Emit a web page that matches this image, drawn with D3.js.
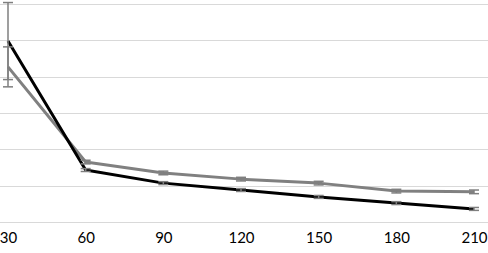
<!DOCTYPE html>
<html>
<head>
<meta charset="utf-8">
<script src="https://cdn.jsdelivr.net/npm/d3@7"></script>
<style>
  body { margin: 0; background: #fff; }
  svg { display: block; }
</style>
</head>
<body>
<div id="container"></div>
<script>
const categories = ["30", "60", "90", "120", "150", "180", "210"]
const blackValues = [49.8, 14.3, 10.7, 8.8, 6.9, 5.2, 3.6]
const blackErrors = [10.6, 0.4, 0.4, 0.4, 0.4, 0.4, 0.4]
const grayValues = [42.7, 16.5, 13.5, 11.8, 10.7, 8.5, 8.3]
const grayErrors = [5.5, 0.5, 0.5, 0.5, 0.5, 0.5, 0.5]
const yTicks = [0, 10, 20, 30, 40, 50, 60]

const width = 488
const height = 253

const svg = d3.select("#container")
    .append("svg")
    .attr("width", width)
    .attr("height", height)

const x = d3.scalePoint()
    .domain(categories)
    .range([8, 474])

const y = d3.scaleLinear()
    .domain([0, 60])
    .range([222, 4])

// gridlines
svg.append("g")
    .selectAll("line")
    .data(yTicks)
    .join("line")
    .attr("x1", 0)
    .attr("x2", width)
    .attr("y1", d => Math.round(y(d)) + 0.5)
    .attr("y2", d => Math.round(y(d)) + 0.5)
    .attr("stroke", "#d9d9d9")
    .attr("stroke-width", 1)

// x axis labels
const xAxis = d3.axisBottom(x).tickSize(0).tickPadding(0)
svg.append("g")
    .attr("transform", "translate(0,232)")
    .call(xAxis)
    .call(g => g.select(".domain").remove())
    .selectAll("text")
    .attr("dy", "0.71em")
    .attr("font-family", "Lato, 'Open Sans', sans-serif")
    .attr("font-size", 15)
    .attr("fill", "#000")

function series(values, errors, color) {
    const pts = categories.map((c, i) => ({ c, v: values[i], e: errors[i] }))

    const line = d3.line()
        .x(d => x(d.c))
        .y(d => y(d.v))

    svg.append("path")
        .datum(pts)
        .attr("fill", "none")
        .attr("stroke", color)
        .attr("stroke-width", 3)
        .attr("stroke-linejoin", "round")
        .attr("d", line)

    return pts
}

function errorBars(pts) {
    const g = svg.append("g")
        .attr("stroke", "#7f7f7f")
        .attr("stroke-width", 1.5)
    const eb = g.selectAll("g")
        .data(pts)
        .join("g")
    eb.append("line")
        .attr("x1", d => x(d.c))
        .attr("x2", d => x(d.c))
        .attr("y1", d => y(d.v + d.e))
        .attr("y2", d => y(d.v - d.e))
    eb.append("line")
        .attr("x1", d => x(d.c) - 5)
        .attr("x2", d => x(d.c) + 5)
        .attr("y1", d => y(d.v + d.e))
        .attr("y2", d => y(d.v + d.e))
    eb.append("line")
        .attr("x1", d => x(d.c) - 5)
        .attr("x2", d => x(d.c) + 5)
        .attr("y1", d => y(d.v - d.e))
        .attr("y2", d => y(d.v - d.e))
}

const grayPts = series(grayValues, grayErrors, "#808080")
const blackPts = series(blackValues, blackErrors, "#000000")
errorBars(grayPts)
errorBars(blackPts)
</script>
</body>
</html>
